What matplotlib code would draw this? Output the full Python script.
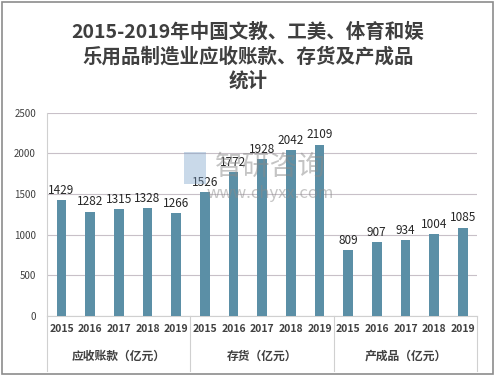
import matplotlib
matplotlib.use("Agg")
import matplotlib.pyplot as plt
from matplotlib.lines import Line2D
from matplotlib.patches import Rectangle

plt.rcParams['font.family'] = ['Noto Sans CJK SC', 'DejaVu Sans']

groups = ['应收账款（亿元）', '存货（亿元）', '产成品（亿元）']
years = ['2015', '2016', '2017', '2018', '2019']
receivables = [1429, 1282, 1315, 1328, 1266]
inventory = [1526, 1772, 1928, 2042, 2109]
finished = [809, 907, 934, 1004, 1085]
yticks = [0, 500, 1000, 1500, 2000, 2500]
title = '2015-2019年中国文教、工美、体育和娱\n乐用品制造业应收账款、存货及产成品\n统计'

values = receivables + inventory + finished
n = len(values)
bar_color = '#5b8fa6'

fig = plt.figure(figsize=(4.96, 3.76), dpi=100)
fig.patches.append(Rectangle((0.004, 0.005), 0.99, 0.99, transform=fig.transFigure,
                             fill=False, edgecolor='#8c8c8c', linewidth=1.2))

ax = fig.add_axes([0.095, 0.16, 0.867, 0.54])
x = list(range(n))
ax.bar(x, values, width=0.33, color=bar_color, zorder=3)
for xi, v in zip(x, values):
    ax.text(xi, v + 40, str(v), ha='center', va='bottom', fontsize=8.5,
            color='#262626', zorder=4)

ax.set_xlim(-0.5, n - 0.5)
ax.set_ylim(0, 2500)
ax.set_yticks(yticks)
ax.set_yticklabels([str(t) for t in yticks], fontsize=7, color='#404040')
ax.yaxis.grid(True, color='#c8c0c8', linewidth=0.8, linestyle='-')
ax.set_axisbelow(True)
ax.tick_params(axis='y', length=0, pad=8)
ax.tick_params(axis='x', length=0)
ax.set_xticks(x)
ax.set_xticklabels(years * 3, fontsize=7.5, fontweight='bold', color='#404040')
ax.tick_params(axis='x', pad=6)
for s in ['top', 'right']:
    ax.spines[s].set_visible(False)
ax.spines['left'].set_color('#d0d0d0')
ax.spines['bottom'].set_color('#d0d0d0')

# group separators and labels
trans = ax.get_xaxis_transform()
for k in range(4):
    xs = k * 5 - 0.5
    ax.add_line(Line2D([xs, xs], [0, -0.27], transform=trans, color='#d0d0d0',
                       linewidth=0.8, clip_on=False))
for k, g in enumerate(groups):
    ax.text(k * 5 + 2, -0.2, g, transform=trans, ha='center', va='center',
            fontsize=8.5, fontweight='bold', color='#404040')

# watermark
fig.text(0.545, 0.555, '智研咨询', fontsize=20, color='#8a8a8a', alpha=0.5,
         ha='center', va='center')
fig.text(0.545, 0.485, 'www.chyxx.com', fontsize=12, color='#8a8a8a', alpha=0.5,
         ha='center', va='center')
fig.patches.append(Rectangle((0.37, 0.51), 0.045, 0.085, transform=fig.transFigure,
                             facecolor='#7aa0c8', alpha=0.4, edgecolor='none'))

fig.text(0.5, 0.85, title, ha='center', va='center', fontsize=14,
         fontweight='bold', color='#3f3f3f', linespacing=1.3)

fig.savefig('out.png', dpi=100)
